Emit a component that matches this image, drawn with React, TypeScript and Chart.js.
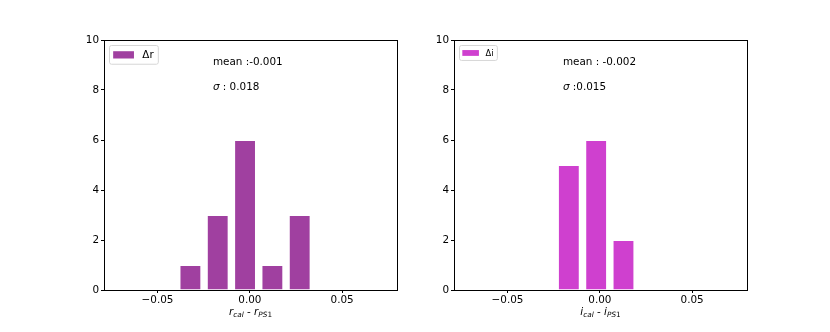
import React, { useEffect, useRef } from "react";
import { Chart, registerables } from "chart.js";

Chart.register(...registerables);

// ---- data ----
const rBinCenters = [-0.0322, -0.0174, -0.0026, 0.0122, 0.027];
const rCounts = [1, 3, 6, 1, 3];
const iBinCenters = [-0.0168, -0.002, 0.0128];
const iCounts = [5, 6, 2];
const xTickValues = [-0.05, 0, 0.05];
const yTickValues = [0, 2, 4, 6, 8, 10];
const rMeanText = "mean :-0.001";
const rSigmaText = " : 0.018";
const iMeanText = "mean : -0.002";
const iSigmaText = " :0.015";

const FONT = "DejaVu Sans";
const FS = 10.4;

type PanelCfg = {
  centers: number[];
  counts: number[];
  color: string;
  legendLabel: string;
  legendFont: number;
  meanText: string;
  sigmaText: string;
  mainVar: string;
  left: number;
};

const overlayPlugin = {
  id: "overlay",
  afterDraw(chart: any) {
    const cfg: PanelCfg = chart.options.plugins.overlay.cfg;
    const ctx = chart.ctx;
    const { left, right, top, bottom } = chart.chartArea;
    const xs = chart.scales.x;
    const ys = chart.scales.y;
    ctx.save();
    // frame
    ctx.strokeStyle = "#000";
    ctx.lineWidth = 1;
    ctx.strokeRect(Math.round(left) + 0.5, Math.round(top) + 0.5, Math.round(right - left), Math.round(bottom - top));

    // annotations (data coords)
    ctx.fillStyle = "#000";
    ctx.textBaseline = "alphabetic";
    ctx.textAlign = "left";
    ctx.font = `${FS}px '${FONT}'`;
    const ax = xs.getPixelForValue(-0.02);
    ctx.fillText(cfg.meanText, ax, ys.getPixelForValue(9));
    const sy = ys.getPixelForValue(8);
    ctx.font = `italic ${FS}px '${FONT}'`;
    ctx.fillText("σ", ax, sy);
    const sw = ctx.measureText("σ").width;
    ctx.font = `${FS}px '${FONT}'`;
    ctx.fillText(cfg.sigmaText, ax + sw, sy);

    // legend
    const fs = cfg.legendFont;
    ctx.font = `${fs}px '${FONT}'`;
    const lw = ctx.measureText(cfg.legendLabel).width;
    const bx = left + 5;
    const by = top + 5;
    const handleW = 2 * fs;
    const handleH = 0.7 * fs;
    const boxW = 0.4 * fs + handleW + 0.8 * fs + lw + 0.4 * fs;
    const boxH = fs * 1.8;
    ctx.beginPath();
    ctx.roundRect(bx + 0.5, by + 0.5, boxW, boxH, 2);
    ctx.fillStyle = "rgba(255,255,255,0.8)";
    ctx.fill();
    ctx.strokeStyle = "#d6d6d6";
    ctx.stroke();
    const hx = bx + 0.4 * fs;
    const hy = by + boxH / 2 - handleH / 2 + 0.5;
    ctx.fillStyle = cfg.color;
    ctx.fillRect(hx, hy, handleW, handleH);
    ctx.fillStyle = "#000";
    ctx.textBaseline = "middle";
    ctx.fillText(cfg.legendLabel, hx + handleW + 0.8 * fs, by + boxH / 2 + 1);

    // x title with subscripts
    const cx = (left + right) / 2;
    const base = bottom + 25;
    ctx.textBaseline = "alphabetic";
    const parts: { t: string; f: string; dy: number }[] = [
      { t: cfg.mainVar, f: `italic ${FS}px '${FONT}'`, dy: 0 },
      { t: "cal", f: `italic 7.3px '${FONT}'`, dy: 2 },
      { t: " - ", f: `${FS}px '${FONT}'`, dy: 0 },
      { t: cfg.mainVar, f: `italic ${FS}px '${FONT}'`, dy: 0 },
      { t: "PS", f: `italic 7.3px '${FONT}'`, dy: 2 },
      { t: "1", f: `7.3px '${FONT}'`, dy: 2 },
    ];
    let total = 0;
    for (const p of parts) {
      ctx.font = p.f;
      total += ctx.measureText(p.t).width;
    }
    let px = cx - total / 2;
    for (const p of parts) {
      ctx.font = p.f;
      ctx.fillText(p.t, px, base + p.dy);
      px += ctx.measureText(p.t).width;
    }
    ctx.restore();
  },
};

function Panel({ cfg }: { cfg: PanelCfg }) {
  const ref = useRef<HTMLCanvasElement | null>(null);
  useEffect(() => {
    if (!ref.current) return;
    const chart = new Chart(ref.current, {
      type: "bar",
      data: {
        datasets: [
          {
            label: cfg.legendLabel,
            data: cfg.centers.map((c, i) => ({ x: c, y: cfg.counts[i] })),
            backgroundColor: cfg.color,
            borderColor: "rgba(255,255,255,0.45)",
            borderWidth: 1,
            barPercentage: 0.8,
            categoryPercentage: 1,
          },
        ],
      },
      options: {
        responsive: false,
        animation: false,
        devicePixelRatio: 1,
        layout: { padding: { top: 40, right: 18, left: 0, bottom: 0 } },
        plugins: {
          legend: { display: false },
          tooltip: { enabled: false },
          overlay: { cfg },
        } as any,
        scales: {
          x: {
            type: "linear",
            offset: false,
            min: -0.079,
            max: 0.0797,
            afterFit: (s: any) => {
              s.height = 42;
            },
            afterBuildTicks: (s: any) => {
              s.ticks = xTickValues.map((v) => ({ value: v }));
            },
            grid: { display: true, offset: false, drawOnChartArea: false, drawTicks: true, tickLength: 3, color: "#000" },
            border: { display: true, color: "#000" },
            ticks: {
              color: "#000",
              padding: 1,
              maxRotation: 0,
              autoSkip: false,
              font: { family: FONT, size: FS },
              callback: (v: any) => Number(v).toFixed(2).replace("-", "\u2212"),
            },
          },
          y: {
            min: 0,
            max: 10,
            afterFit: (s: any) => {
              s.width = 104;
            },
            afterBuildTicks: (s: any) => {
              s.ticks = yTickValues.map((v) => ({ value: v }));
            },
            grid: { display: true, drawOnChartArea: false, drawTicks: true, tickLength: 3, color: "#000" },
            border: { display: true, color: "#000" },
            ticks: {
              color: "#000",
              padding: 2,
              font: { family: FONT, size: FS },
              callback: (v: any) => String(v),
            },
          },
        },
      },
      plugins: [overlayPlugin],
    });
    return () => chart.destroy();
  }, [cfg]);
  return (
    <canvas
      ref={ref}
      width={415}
      height={332}
      style={{ position: "absolute", left: cfg.left, top: 0, width: 415, height: 332 }}
    />
  );
}

const leftCfg: PanelCfg = {
  centers: rBinCenters,
  counts: rCounts,
  color: "#a040a0",
  legendLabel: "Δr",
  legendFont: FS,
  meanText: rMeanText,
  sigmaText: rSigmaText,
  mainVar: "r",
  left: 0,
};

const rightCfg: PanelCfg = {
  centers: iBinCenters,
  counts: iCounts,
  color: "#cf40cf",
  legendLabel: "Δi",
  legendFont: 8.3,
  meanText: iMeanText,
  sigmaText: iSigmaText,
  mainVar: "i",
  left: 350,
};

export default function App() {
  return (
    <div style={{ position: "absolute", left: 0, top: 0, width: 830, height: 332, background: "#fff" }}>
      <Panel cfg={leftCfg} />
      <Panel cfg={rightCfg} />
    </div>
  );
}
